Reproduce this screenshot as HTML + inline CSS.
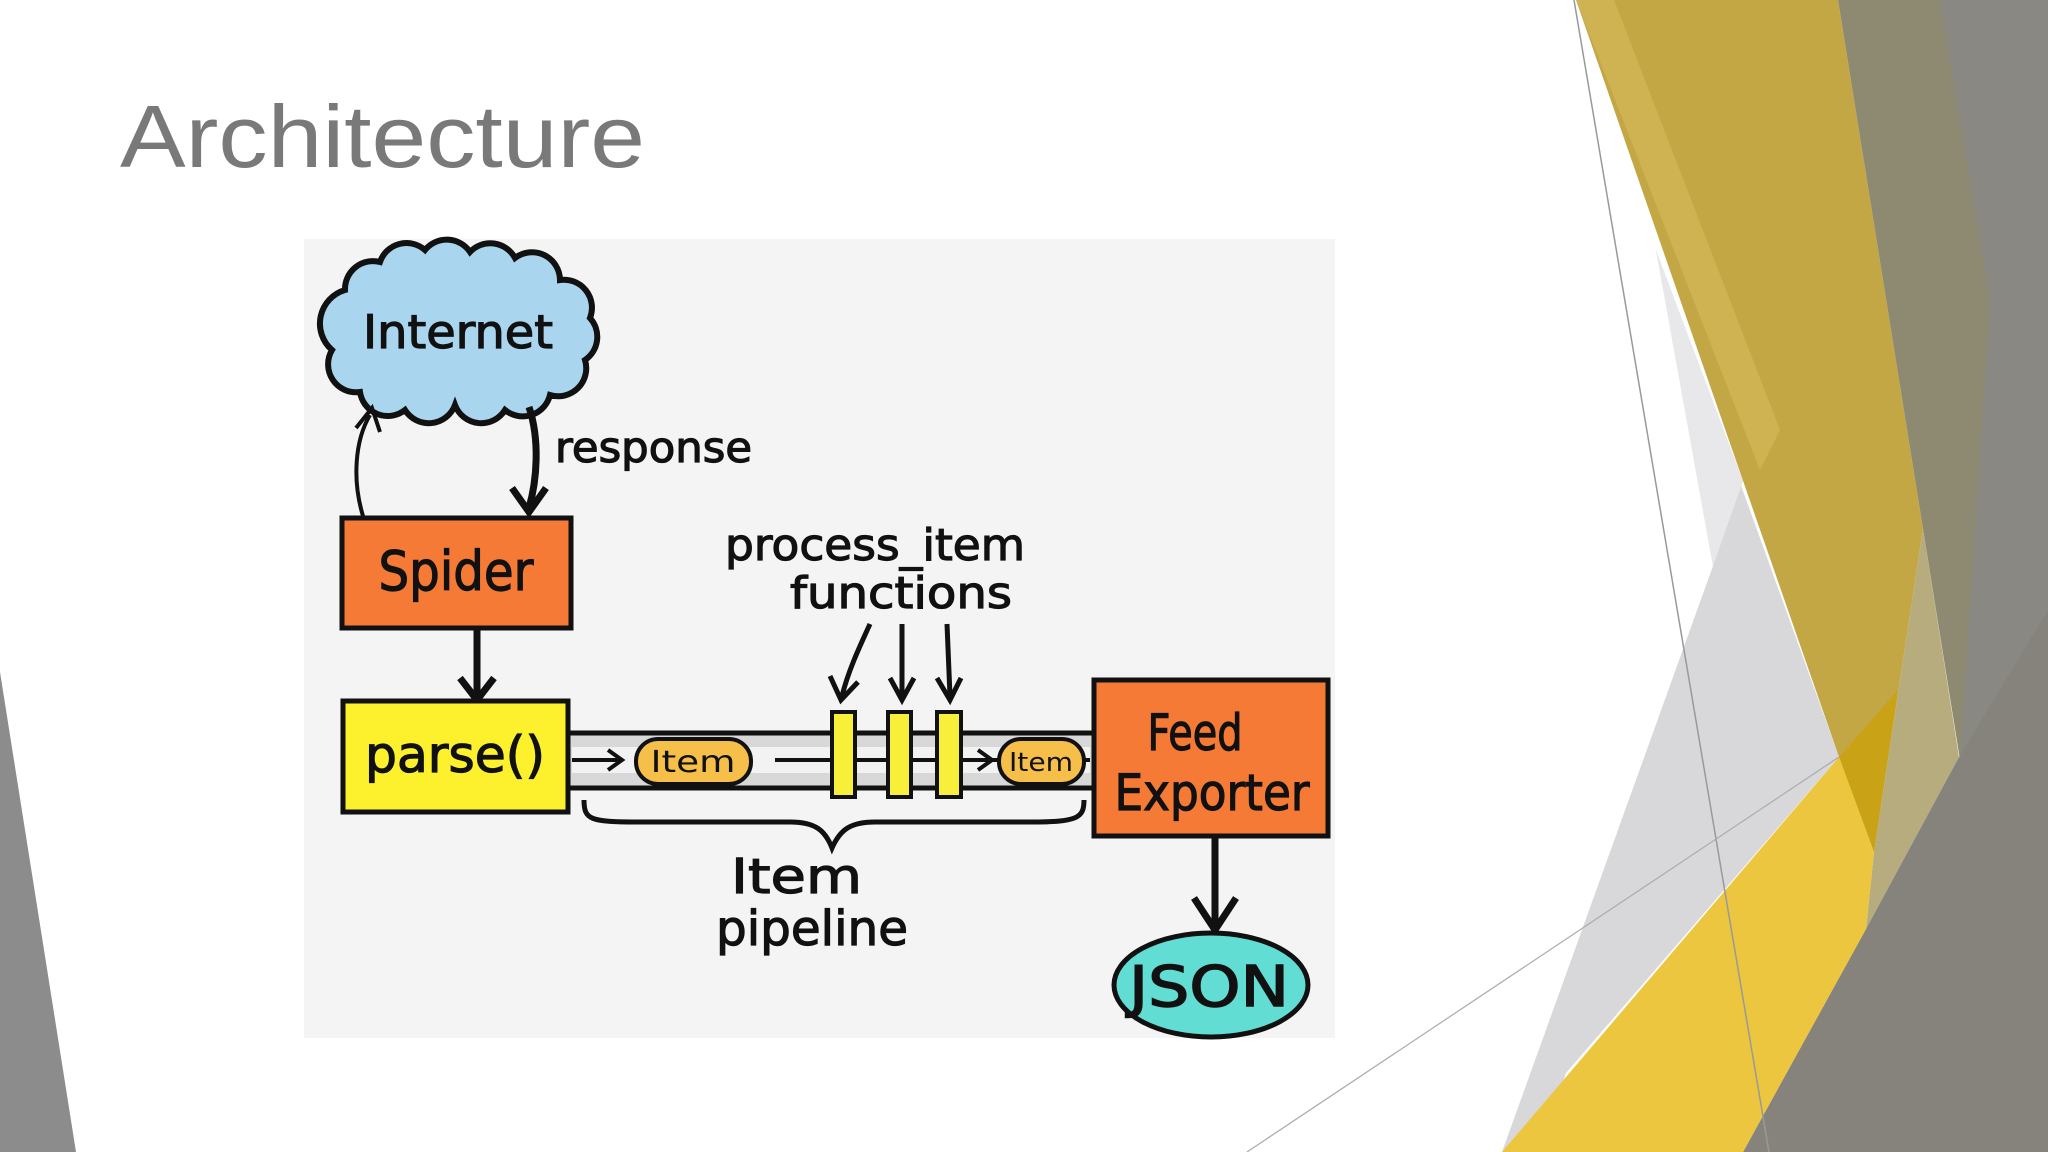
<!DOCTYPE html>
<html><head><meta charset="utf-8"><style>
html,body{margin:0;padding:0;background:#fff;}
svg{display:block}
</style></head><body>
<svg width="2048" height="1152" viewBox="0 0 2048 1152" xmlns="http://www.w3.org/2000/svg">
<rect width="2048" height="1152" fill="#fff"/>
<polygon points="0,672 0,1152 76,1152" fill="#8c8c8c"/>
<polygon points="1656,250 1839,757 1566,1073 1540,1152 1502,1152 1713,566" fill="#d8d8da"/>
<polygon points="1656,250 1743,481 1713,566" fill="#e8e8ea"/>
<polygon points="1576,0 1838,0 1923,529 1874,852 1839,757" fill="#c4a745"/>
<polygon points="1576,0 1614,0 1780,430 1760,470" fill="#cfb352"/>
<polygon points="1838,0 2048,0 2048,610 1960,760 1923,529" fill="#8e8a72"/>
<polygon points="1940,0 2048,0 2048,610 1960,760 1990,300" fill="#8a8882"/>
<polygon points="1923,529 1959,757 1866,929 1874,852" fill="#b7ac7e"/>
<polygon points="2048,610 2048,1152 1743,1152 1866,929 1959,757" fill="#85837c"/>
<polygon points="1839,757 1898,690 1874,852" fill="#c9a215"/>
<polygon points="1839,757 1874,852 1866,929 1743,1152 1502,1152" fill="#ecc63e"/>
<line x1="1574" y1="0" x2="1769" y2="1152" stroke="#999" stroke-width="1.5"/>
<line x1="1247" y1="1152" x2="1839" y2="757" stroke="#aaa" stroke-width="1.2"/>
<text x="120" y="167" font-family="Liberation Sans, sans-serif" font-size="88" fill="#797979" textLength="525" lengthAdjust="spacingAndGlyphs">Architecture</text>
<rect x="304" y="239" width="1031" height="799" fill="#f4f4f4"/>
<g font-family="DejaVu Sans, Liberation Sans, sans-serif" fill="#111">
<path d="M345,290 A28,28 0 0 1 380,262 A28,28 0 0 1 425,250 A28,28 0 0 1 470,252 A28,28 0 0 1 515,258 A28,28 0 0 1 560,280 A28,28 0 0 1 590,318 A28,28 0 0 1 585,360 A28,28 0 0 1 550,395 A28,28 0 0 1 505,410 A28,28 0 0 1 455,405 A28,28 0 0 1 405,410 A28,28 0 0 1 360,392 A28,28 0 0 1 332,350 A35,35 0 0 1 345,290 Z" fill="#a9d5ef" stroke="#111" stroke-width="6"/>
<g stroke="#111" stroke-width="1.2">
<text x="458" y="348" font-size="46" text-anchor="middle" textLength="190" lengthAdjust="spacingAndGlyphs">Internet</text>
<text x="555" y="462" font-size="42" textLength="197" lengthAdjust="spacingAndGlyphs">response</text>
</g>
<path d="M363,516 C352,480 355,440 370,415" fill="none" stroke="#111" stroke-width="4"/>
<path d="M356,428 L372,408 L380,432" fill="none" stroke="#111" stroke-width="4"/>
<path d="M529,407 C540,440 537,480 529,508" fill="none" stroke="#111" stroke-width="7"/>
<path d="M512,488 L529,512 L546,488" fill="none" stroke="#111" stroke-width="7"/>
<rect x="342" y="518" width="229" height="110" fill="#f57a35" stroke="#111" stroke-width="5"/>
<text x="456" y="590" font-size="54" text-anchor="middle" textLength="155" lengthAdjust="spacingAndGlyphs" stroke="#111" stroke-width="1.2">Spider</text>
<line x1="477" y1="628" x2="477" y2="697" stroke="#111" stroke-width="7"/>
<path d="M460,678 L477,700 L494,678" fill="none" stroke="#111" stroke-width="7"/>
<rect x="568" y="733" width="526" height="55" fill="#d8d8d8" stroke="#111" stroke-width="5"/>
<rect x="572" y="747" width="518" height="26" fill="#f2f2f2"/>
<line x1="572" y1="760" x2="620" y2="760" stroke="#111" stroke-width="4"/>
<path d="M608,750 L622,760 L608,770" fill="none" stroke="#111" stroke-width="4"/>
<line x1="775" y1="760" x2="1090" y2="760" stroke="#111" stroke-width="4"/>
<path d="M978,750 L992,760 L978,770" fill="none" stroke="#111" stroke-width="4"/>
<rect x="636" y="739" width="115" height="45" rx="22" fill="#f5bf4a" stroke="#111" stroke-width="4"/>
<text x="693" y="772" font-size="30" text-anchor="middle" textLength="85" lengthAdjust="spacingAndGlyphs">Item</text>
<rect x="999" y="739" width="85" height="45" rx="22" fill="#f5bf4a" stroke="#111" stroke-width="4"/>
<text x="1041" y="771" font-size="26" text-anchor="middle" textLength="64" lengthAdjust="spacingAndGlyphs">Item</text>
<rect x="832" y="712" width="23" height="85" fill="#f7ef3a" stroke="#111" stroke-width="4"/>
<rect x="888" y="712" width="23" height="85" fill="#f7ef3a" stroke="#111" stroke-width="4"/>
<rect x="937" y="712" width="24" height="85" fill="#f7ef3a" stroke="#111" stroke-width="4"/>
<rect x="343" y="701" width="225" height="111" fill="#fcf12c" stroke="#111" stroke-width="5"/>
<g stroke="#111" stroke-width="1.2">
<text x="455" y="772" font-size="50" text-anchor="middle" textLength="180" lengthAdjust="spacingAndGlyphs">parse()</text>
<text x="725" y="560" font-size="44" textLength="300" lengthAdjust="spacingAndGlyphs">process_item</text>
<text x="790" y="608" font-size="44" textLength="222" lengthAdjust="spacingAndGlyphs">functions</text>
<text x="731" y="893" font-size="48" textLength="131" lengthAdjust="spacingAndGlyphs">Item</text>
<text x="716" y="945" font-size="48" textLength="192" lengthAdjust="spacingAndGlyphs">pipeline</text>
</g>
<path d="M870,624 C858,650 848,672 842,696" fill="none" stroke="#111" stroke-width="5"/>
<path d="M830,676 L841,700 L858,682" fill="none" stroke="#111" stroke-width="5"/>
<line x1="902" y1="624" x2="902" y2="696" stroke="#111" stroke-width="5"/>
<path d="M890,678 L902,700 L914,678" fill="none" stroke="#111" stroke-width="5"/>
<line x1="947" y1="624" x2="950" y2="696" stroke="#111" stroke-width="5"/>
<path d="M937,678 L950,700 L961,678" fill="none" stroke="#111" stroke-width="5"/>
<path d="M584,800 C584,820 590,822 640,822 L790,822 C815,822 825,830 832,848 C840,830 850,822 875,822 L1030,822 C1078,822 1084,818 1084,800" fill="none" stroke="#111" stroke-width="5"/>
<rect x="1094" y="680" width="234" height="156" fill="#f57a35" stroke="#111" stroke-width="5"/>
<g stroke="#111" stroke-width="1.2">
<text x="1195" y="750" font-size="50" text-anchor="middle" textLength="95" lengthAdjust="spacingAndGlyphs">Feed</text>
<text x="1212" y="810" font-size="50" text-anchor="middle" textLength="195" lengthAdjust="spacingAndGlyphs">Exporter</text>
</g>
<line x1="1215" y1="836" x2="1215" y2="926" stroke="#111" stroke-width="7"/>
<path d="M1194,898 L1215,930 L1236,898" fill="none" stroke="#111" stroke-width="7"/>
<ellipse cx="1211" cy="985" rx="97" ry="52" fill="#62ddd4" stroke="#111" stroke-width="5"/>
<text x="1209" y="1006" font-size="56" text-anchor="middle" textLength="160" lengthAdjust="spacingAndGlyphs" stroke="#111" stroke-width="1.5">JSON</text>
</g>
</svg>
</body></html>
